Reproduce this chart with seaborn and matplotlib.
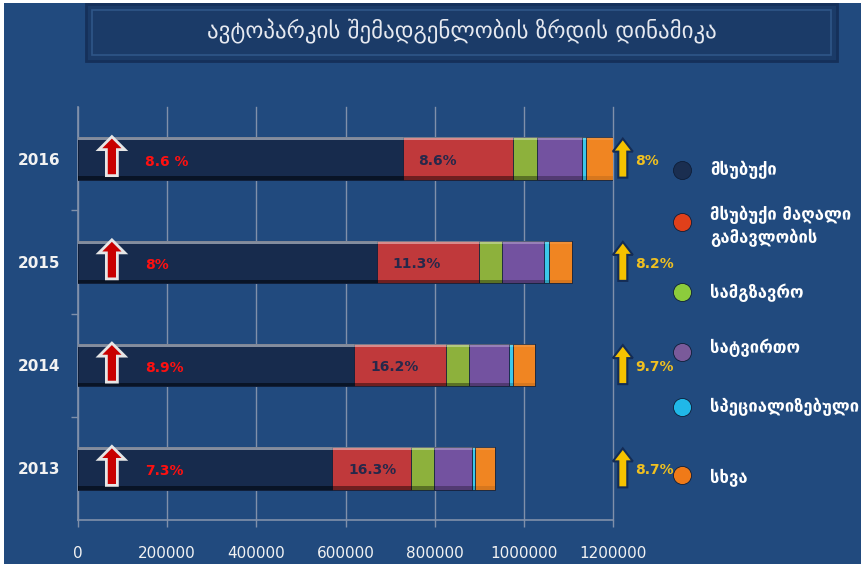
import numpy as np
import pandas as pd
import matplotlib
matplotlib.use("Agg")
import matplotlib.pyplot as plt
import seaborn as sns
from matplotlib import transforms
from matplotlib.patches import Polygon, Rectangle
from matplotlib.lines import Line2D

# ---------------- data ----------------
years = ["2016", "2015", "2014", "2013"]
passenger = [728000, 670000, 620000, 570000]
passenger_suv = [247000, 230000, 205000, 176000]
bus = [54000, 50000, 52000, 52000]
truck = [101000, 95000, 90000, 85000]
special = [9600, 11000, 9000, 7500]
other = [60000, 53000, 49000, 45000]

passenger_growth = ["8.6 %", "8%", "8.9%", "7.3%"]
suv_share = ["8.6%", "11.3%", "16.2%", "16.3%"]
total_growth = ["8%", "8.2%", "9.7%", "8.7%"]

series_names = ["მსუბუქი", "მსუბუქი მაღალი\nგამავლობის", "სამგზავრო",
                "სატვირთო", "სპეციალიზებული", "სხვა"]
series_colors = ["#172b4d", "#c0393b", "#8db13c", "#7352a0", "#3cc8ea", "#f08522"]
legend_colors = ["#1a2e50", "#e0401a", "#8ccc3c", "#7a5a9a", "#20b8e8", "#f07a18"]

title = "ავტოპარკის შემადგენლობის ზრდის დინამიკა"
xticks = [0, 200000, 400000, 600000, 800000, 1000000, 1200000]

# ---------------- figure ----------------
W, H, DPI = 861, 567, 100
BG = "#214a7e"
fig = plt.figure(figsize=(W / DPI, H / DPI), dpi=DPI, facecolor="white")
fig.add_artist(Rectangle((4 / W, 3 / H), 1 - 4 / W, 1 - 6 / H, transform=fig.transFigure,
                         facecolor=BG, edgecolor="none", zorder=-10))

ax = fig.add_axes([78 / W, 1 - 520 / H, 535 / W, 413 / H])
ax.set_facecolor("none")

series = [passenger, passenger_suv, bus, truck, special, other]
cum = np.cumsum(np.array(series, dtype=float), axis=0)
df = pd.DataFrame({"year": years})
for k in range(len(series)):
    df[f"c{k}"] = cum[k]

for k in range(len(series) - 1, -1, -1):
    sns.barplot(data=df, x=f"c{k}", y="year", order=years, orient="h",
                color=series_colors[k], saturation=1, width=0.41, ax=ax,
                edgecolor="#10203a", linewidth=0.6, zorder=3)

# subtle bevel on each bar segment
for p in list(ax.patches):
    x0, y0 = p.get_x(), p.get_y()
    w, h = p.get_width(), p.get_height()
    ax.add_patch(Rectangle((x0, y0), w, h * 0.07, facecolor="white", alpha=0.10,
                           edgecolor="none", zorder=4))
    ax.add_patch(Rectangle((x0, y0 + h * 0.92), w, h * 0.08, facecolor="black", alpha=0.10,
                           edgecolor="none", zorder=4))

ax.set_xlim(0, 1200000)
ax.set_ylim(len(years) - 0.5, -0.5)
ax.set_xticks(xticks)
ax.set_xticklabels([str(t) for t in xticks])
ax.set_yticks(range(len(years)))
ax.set_yticklabels(years)
ax.set_yticks([0.5, 1.5, 2.5], minor=True)
ax.set_xlabel("")
ax.set_ylabel("")

GRID = "#8090aa"
ax.xaxis.grid(True, color=GRID, linewidth=1, zorder=0, clip_on=False)
ax.yaxis.grid(False)
ax.set_axisbelow(True)
for s in ["top", "right"]:
    ax.spines[s].set_visible(False)
for s in ["left", "bottom"]:
    ax.spines[s].set_color(GRID)
    ax.spines[s].set_linewidth(1.2)
ax.tick_params(axis="x", colors=GRID, length=5, width=1, pad=14,
               labelcolor="#f2f2f2", labelsize=11)
ax.tick_params(axis="y", which="major", length=0, pad=13, labelcolor="#f2f2f2", labelsize=11)
ax.tick_params(axis="y", which="minor", length=5, width=1, colors=GRID)
for lab in ax.get_yticklabels():
    lab.set_fontweight("bold")

# ---------------- arrows and annotations ----------------
def arrow(xd, yd, verts_px, fc, ec, lw):
    tr = fig.dpi_scale_trans + transforms.ScaledTranslation(xd, yd, ax.transData)
    v = np.array(verts_px, dtype=float) / DPI
    ax.add_patch(Polygon(v, closed=True, transform=tr, facecolor=fc, edgecolor=ec,
                         linewidth=lw, clip_on=False, zorder=6))

red_arrow = [(0, 22), (13, 9), (5.5, 9), (5.5, -17), (-5.5, -17), (-5.5, 9), (-13, 9)]
yel_arrow = [(0, 20), (10, 7), (4.5, 7), (4.5, -19), (-4.5, -19), (-4.5, 7), (-10, 7)]

for i, yr in enumerate(years):
    arrow(76000, i, red_arrow, "#c80000", "#e6e6e6", 2.0)
    ax.text(150000, i + 0.03, passenger_growth[i], color="#ff1010", fontsize=10,
            fontweight="bold", ha="left", va="center", zorder=7)
    ax.annotate(suv_share[i], xy=(passenger[i], i + 0.02), xytext=(16, 0),
                textcoords="offset pixels", color="#26284a", fontsize=10,
                fontweight="bold", ha="left", va="center", zorder=7)
    arrow(1222000, i, yel_arrow, "#f5c200", "#142c55", 1.5)
    ax.text(1250000, i + 0.02, total_growth[i], color="#f0c020", fontsize=10,
            fontweight="bold", ha="left", va="center", zorder=7, clip_on=False)

# ---------------- legend ----------------
leg_marker_y = [170, 222, 292, 352, 407, 475]
leg_text_y = [170, 226, 293, 348, 407, 478]
for k, name in enumerate(series_names):
    fig.add_artist(Line2D([682 / W], [1 - leg_marker_y[k] / H], marker="o", markersize=13,
                          markerfacecolor=legend_colors[k], markeredgecolor="#0e1e38",
                          markeredgewidth=0.6, linestyle="none", transform=fig.transFigure))
    fig.text(710 / W, 1 - leg_text_y[k] / H, name, color="white", fontsize=12,
             fontweight="bold", ha="left", va="center", linespacing=1.35)

# ---------------- title box ----------------
fig.add_artist(Rectangle((86 / W, 1 - 61 / H), (837 - 86) / W, 57 / H, transform=fig.transFigure,
                         facecolor="#1b3b68", edgecolor="#15305a", linewidth=2))
fig.add_artist(Rectangle((92 / W, 1 - 55 / H), (831 - 92) / W, 45 / H, transform=fig.transFigure,
                         facecolor="none", edgecolor="#2f5688", linewidth=1.2))
fig.text(462 / W, 1 - 32 / H, title, color="#e6e9f0", fontsize=16.5, ha="center", va="center")

fig.savefig("out.png", dpi=DPI, facecolor=fig.get_facecolor())
